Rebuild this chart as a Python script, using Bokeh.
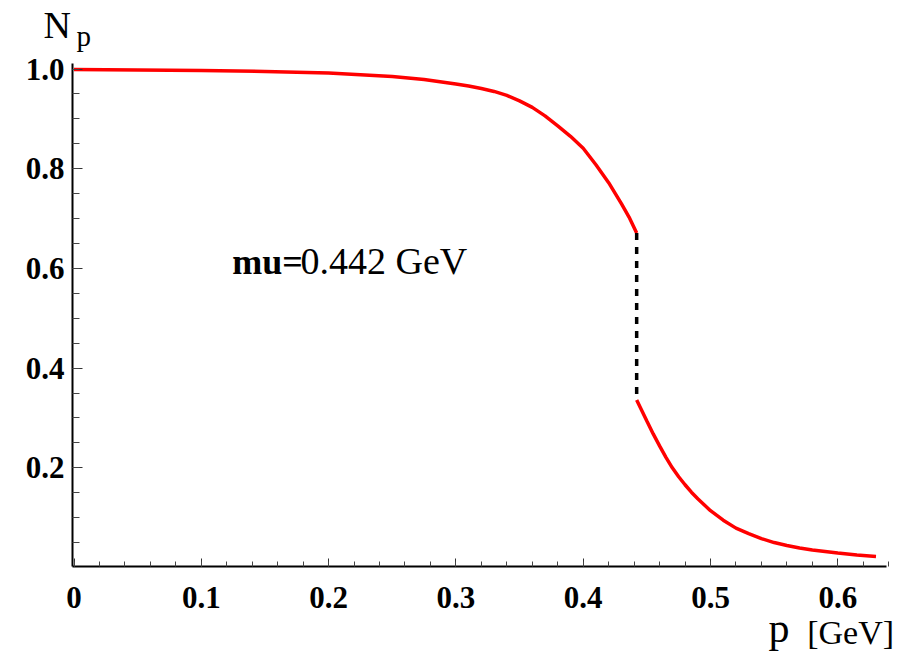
from bokeh.plotting import figure
from bokeh.models import FixedTicker, Label, Range1d
from bokeh.embed import file_html
from bokeh.resources import INLINE

# upper branch (before the jump)
p_upper = [0.0, 0.05, 0.10, 0.15, 0.20, 0.25, 0.275, 0.30, 0.31, 0.32, 0.33, 0.34, 0.35, 0.36,
           0.37, 0.38, 0.39, 0.40, 0.41, 0.42, 0.43, 0.436, 0.442]
n_upper = [0.999, 0.998, 0.997, 0.995, 0.992, 0.985, 0.979, 0.970, 0.966, 0.961, 0.955, 0.947, 0.936, 0.923,
           0.906, 0.886, 0.865, 0.841, 0.808, 0.772, 0.730, 0.703, 0.671]
# lower branch (after the jump)
p_lower = [0.442, 0.446, 0.45, 0.455, 0.46, 0.465, 0.47, 0.475, 0.48, 0.485, 0.49, 0.495, 0.50,
           0.51, 0.52, 0.53, 0.54, 0.55, 0.56, 0.57, 0.58, 0.59, 0.60, 0.615, 0.63]
n_lower = [0.336, 0.315, 0.294, 0.268, 0.244, 0.221, 0.200, 0.182, 0.166, 0.151, 0.138, 0.126, 0.114,
           0.095, 0.079, 0.068, 0.058, 0.050, 0.044, 0.039, 0.035, 0.032, 0.029, 0.025, 0.022]
p_jump = 0.442

x_ticks = [0.0, 0.1, 0.2, 0.3, 0.4, 0.5, 0.6]
x_tick_labels = ["0", "0.1", "0.2", "0.3", "0.4", "0.5", "0.6"]
y_ticks = [0.2, 0.4, 0.6, 0.8, 1.0]
y_tick_labels = ["0.2", "0.4", "0.6", "0.8", "1.0"]

SERIF = "Liberation Serif"

W, H = 912, 654
# pixel mapping of the reference: x = (px - 73.5)/1273, y = (567 - py)/498.5
X0, XS = 73.5, 1273.0
Y0, YS = 567.0, 498.5
x_lo, x_hi = (72 - X0) / XS, (886 - X0) / XS
y_lo, y_hi = (Y0 - 566) / YS, (Y0 - 63) / YS

p = figure(width=W, height=H,
           x_range=Range1d(-X0 / XS, (W - X0) / XS), y_range=Range1d((Y0 - H) / YS, Y0 / YS),
           output_backend="svg", toolbar_location=None,
           min_border=0, min_border_left=0, min_border_right=0, min_border_top=0, min_border_bottom=0)
p.outline_line_color = None
p.xgrid.visible = False
p.ygrid.visible = False
p.background_fill_color = "white"
p.border_fill_color = "white"

xa = p.xaxis[0]
xa.fixed_location = y_lo
xa.bounds = (x_lo, x_hi)
xa.ticker = FixedTicker(ticks=x_ticks, minor_ticks=[round(i * 0.02, 2) for i in range(33)])
xa.major_label_overrides = {t: l for t, l in zip(x_ticks, x_tick_labels)}
ya = p.yaxis[0]
ya.fixed_location = x_lo
ya.bounds = (y_lo, y_hi)
ya.ticker = FixedTicker(ticks=y_ticks, minor_ticks=[round(i * 0.05, 2) for i in range(1, 21)])
ya.major_label_overrides = {t: l for t, l in zip(y_ticks, y_tick_labels)}

for ax in (xa, ya):
    ax.axis_line_color = "black"
    ax.axis_line_width = 2
    ax.major_tick_line_color = "#333333"
    ax.minor_tick_line_color = "#444444"
    ax.major_tick_line_width = 1
    ax.minor_tick_line_width = 1
    ax.major_tick_out = 0
    ax.minor_tick_out = 0
    ax.major_label_text_font = SERIF
    ax.major_label_text_font_style = "bold"
    ax.major_label_text_font_size = "31px"
    ax.major_label_text_color = "black"
xa.major_tick_in = 8
xa.minor_tick_in = 5
ya.major_tick_in = 10
ya.minor_tick_in = 7
xa.major_label_standoff = 20
ya.major_label_standoff = 8

p.line(p_upper, n_upper, line_color="#ff0000", line_width=3.5)
p.line(p_lower, n_lower, line_color="#ff0000", line_width=3.5)
p.line([p_jump, p_jump], [n_upper[-1], n_lower[0]], line_color="black", line_width=3.5, line_dash="7 7")

def lab(x, y, text, size, style="normal", font=SERIF):
    # compensate for the renderer's baseline offset (about a third of the font size)
    y_adj = y + 0.34 * size / YS
    p.add_layout(Label(x=x, y=y_adj, text=text, text_font=font, text_font_size=f"{size}px",
                       text_font_style=style, text_color="black",
                       text_align="left", text_baseline="alphabetic"))

lab(-0.024, 1.063, "N", 38)
lab(0.002, 1.046, "p", 29)
lab(0.5456, -0.1505, "p", 42)
lab(0.576, -0.1545, "[GeV]", 34)
lab(0.1243, 0.589, "mu=", 36, "bold")
lab(0.1779, 0.589, "0.442 GeV", 38)

open("out.html", "w").write(file_html(p, INLINE))
